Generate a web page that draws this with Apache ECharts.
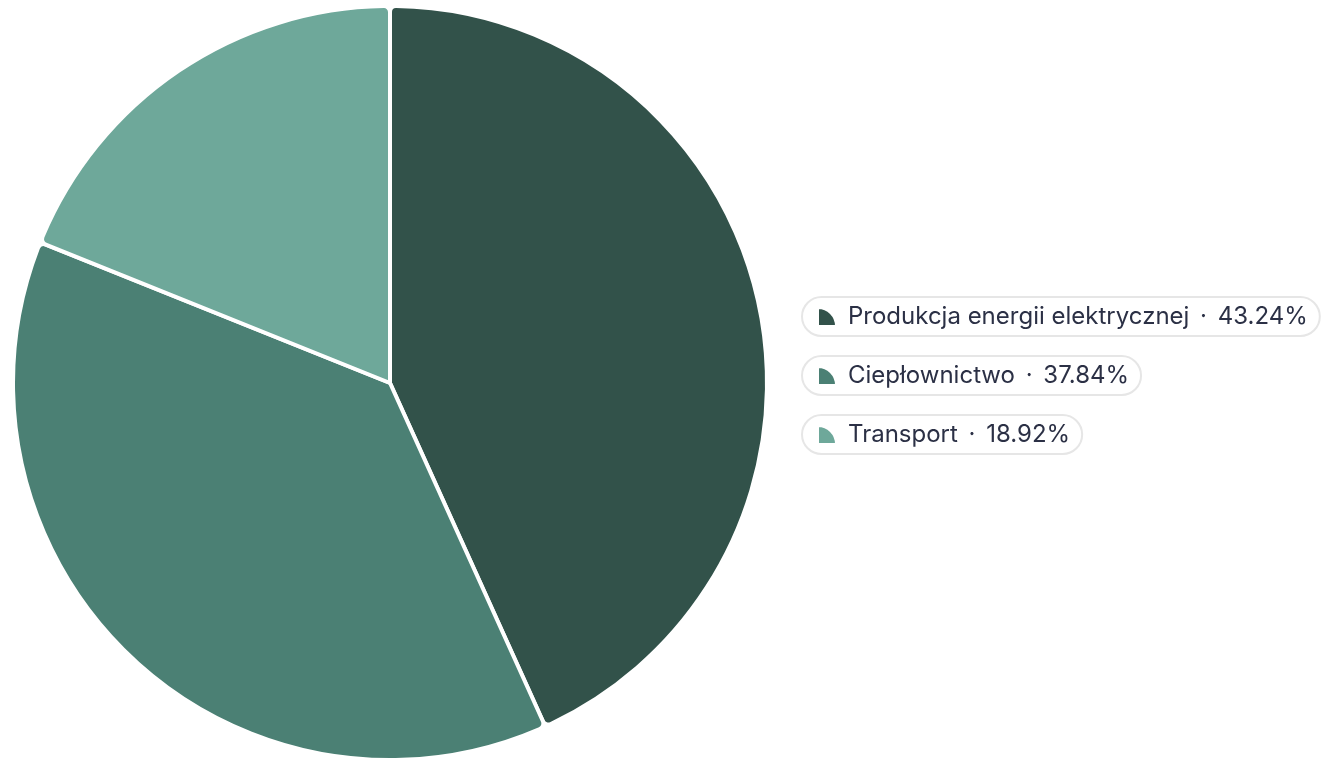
<!DOCTYPE html>
<html>
<head>
<meta charset="utf-8">
<script src="https://cdn.jsdelivr.net/npm/echarts@6/dist/echarts.min.js"></script>
<style>
  html, body { margin: 0; padding: 0; background: #fff; }
  #chart { width: 1322px; height: 760px; }
</style>
</head>
<body>
<div id="chart"></div>
<script>
// data
var categories = ["Produkcja energii elektrycznej", "Ciepłownictwo", "Transport"];
var values = [16, 14, 7];
var colors = ["#32524a", "#4b8074", "#6ea89a"];

var total = values.reduce(function (a, b) { return a + b; }, 0);
var legendTops = [297, 356, 415];

var chart = echarts.init(document.getElementById("chart"));

var legends = categories.map(function (name, i) {
  return {
    data: [name],
    left: 802,
    top: legendTops[i],
    orient: "vertical",
    icon: "path://M0,0 A10,10 0 0 1 10,10 L0,10 Z",
    itemWidth: 18,
    itemHeight: 18,
    itemGap: 0,
    padding: [8, 12, 7, 15],
    borderColor: "#e6e6e6",
    borderWidth: 2,
    borderRadius: 21,
    backgroundColor: "#fff",
    selectedMode: false,
    textStyle: {
      fontFamily: "Inter",
      fontSize: 24,
      color: "#2b3045",
      padding: [0, 0, 0, 7],
      rich: {
        d: { fontFamily: "Inter", fontSize: 24, color: "#2b3045", padding: [0, 4] }
      }
    },
    formatter: function (n) {
      var idx = categories.indexOf(n);
      return n + " {d|·} " + (values[idx] / total * 100).toFixed(2) + "%";
    }
  };
});

chart.setOption({
  backgroundColor: "#fff",
  color: colors,
  legend: legends,
  series: [
    {
      type: "pie",
      center: [390, 383],
      radius: [0, 377],
      startAngle: 90,
      clockwise: true,
      label: { show: false },
      labelLine: { show: false },
      itemStyle: {
        borderColor: "#fff",
        borderWidth: 4,
        borderRadius: 6
      },
      data: categories.map(function (name, i) {
        return { name: name, value: values[i] };
      })
    }
  ]
});
</script>
</body>
</html>
